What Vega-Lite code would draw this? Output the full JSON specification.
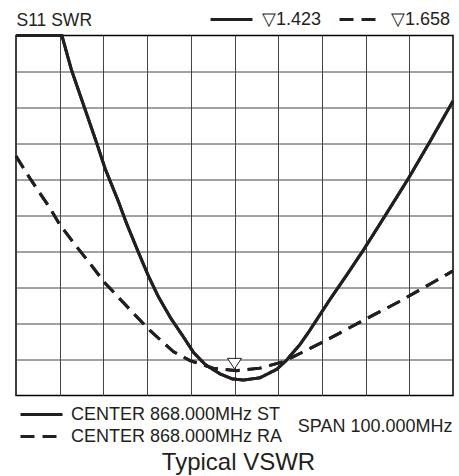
{
  "$schema": "https://vega.github.io/schema/vega-lite/v6.json",
  "width": 437,
  "height": 360,
  "autosize": {"type": "none"},
  "padding": {"left": 16, "top": 35.5, "right": 6, "bottom": 80.5},
  "background": "#ffffff",
  "title": {"text": "Typical VSWR", "orient": "bottom", "anchor": "middle", "fontSize": 24, "font": "Liberation Sans", "fontWeight": "normal", "color": "#231f20", "offset": 3, "dx": 4},
  "datasets": {
    "traces": [
      {"f": 818, "swr": 11, "s": "ST"},
      {"f": 828.5, "swr": 11, "s": "ST"},
      {"f": 830.7, "swr": 10.04, "s": "ST"},
      {"f": 833.8, "swr": 8.95, "s": "ST"},
      {"f": 836.5, "swr": 8.0, "s": "ST"},
      {"f": 838.4, "swr": 7.3, "s": "ST"},
      {"f": 841.4, "swr": 6.4, "s": "ST"},
      {"f": 843.3, "swr": 5.78, "s": "ST"},
      {"f": 846.0, "swr": 4.98, "s": "ST"},
      {"f": 848.3, "swr": 4.32, "s": "ST"},
      {"f": 850.6, "swr": 3.74, "s": "ST"},
      {"f": 853.4, "swr": 3.15, "s": "ST"},
      {"f": 856.3, "swr": 2.63, "s": "ST"},
      {"f": 858.6, "swr": 2.2, "s": "ST"},
      {"f": 861.3, "swr": 1.86, "s": "ST"},
      {"f": 864.7, "swr": 1.6, "s": "ST"},
      {"f": 867.5, "swr": 1.46, "s": "ST"},
      {"f": 870.0, "swr": 1.43, "s": "ST"},
      {"f": 873.8, "swr": 1.49, "s": "ST"},
      {"f": 877.7, "swr": 1.73, "s": "ST"},
      {"f": 879.9, "swr": 1.98, "s": "ST"},
      {"f": 883.0, "swr": 2.42, "s": "ST"},
      {"f": 884.9, "swr": 2.75, "s": "ST"},
      {"f": 887.0, "swr": 3.14, "s": "ST"},
      {"f": 889.9, "swr": 3.68, "s": "ST"},
      {"f": 893.7, "swr": 4.35, "s": "ST"},
      {"f": 897.5, "swr": 5.04, "s": "ST"},
      {"f": 902.6, "swr": 6.02, "s": "ST"},
      {"f": 907.8, "swr": 7.03, "s": "ST"},
      {"f": 912.8, "swr": 8.07, "s": "ST"},
      {"f": 918, "swr": 9.18, "s": "ST"},
      {"f": 818, "swr": 7.65, "s": "RA"},
      {"f": 821.2, "swr": 7.03, "s": "RA"},
      {"f": 825.8, "swr": 6.2, "s": "RA"},
      {"f": 828.0, "swr": 5.75, "s": "RA"},
      {"f": 831.9, "swr": 5.13, "s": "RA"},
      {"f": 834.9, "swr": 4.67, "s": "RA"},
      {"f": 838.4, "swr": 4.12, "s": "RA"},
      {"f": 846.0, "swr": 3.14, "s": "RA"},
      {"f": 848.7, "swr": 2.8, "s": "RA"},
      {"f": 854.0, "swr": 2.22, "s": "RA"},
      {"f": 857.8, "swr": 1.97, "s": "RA"},
      {"f": 863.1, "swr": 1.76, "s": "RA"},
      {"f": 868.5, "swr": 1.69, "s": "RA"},
      {"f": 873.8, "swr": 1.76, "s": "RA"},
      {"f": 879.2, "swr": 1.94, "s": "RA"},
      {"f": 884.5, "swr": 2.26, "s": "RA"},
      {"f": 888.3, "swr": 2.49, "s": "RA"},
      {"f": 898.3, "swr": 3.14, "s": "RA"},
      {"f": 905.9, "swr": 3.62, "s": "RA"},
      {"f": 917.7, "swr": 4.44, "s": "RA"},
      {"f": 918, "swr": 4.46, "s": "RA"}
    ],
    "marker": [
      {"f": 868, "swr": 1.74}
    ]
  },
  "layer": [
    {
      "data": {"name": "traces"},
      "mark": {"type": "line", "strokeWidth": 3, "color": "#231f20", "strokeCap": "butt"},
      "encoding": {
        "x": {"field": "f", "type": "quantitative", "scale": {"domain": [818, 918], "nice": false, "zero": false},
          "axis": {"values": [828, 838, 848, 858, 868, 878, 888, 898, 908], "grid": true, "ticks": false, "labels": false, "domain": false,
            "title": "SPAN 100.000MHz", "titleAnchor": "end", "titleAlign": "right", "titleBaseline": "middle", "titleX": 436, "titleY": 31, "titleFontSize": 18, "titleFontWeight": "normal", "titleFont": "Liberation Sans", "titleColor": "#231f20"}},
        "y": {"field": "swr", "type": "quantitative", "scale": {"domain": [1, 11], "nice": false, "zero": false},
          "axis": {"values": [2, 3, 4, 5, 6, 7, 8, 9, 10], "grid": true, "ticks": false, "labels": false, "domain": false,
            "title": "S11 SWR", "titleAngle": 0, "titleAlign": "left", "titleBaseline": "alphabetic", "titleX": 0, "titleY": -10.5, "titleFontSize": 17.5, "titleFontWeight": "normal", "titleFont": "Liberation Sans", "titleColor": "#231f20"}},
        "strokeDash": {"field": "s", "type": "nominal", "scale": {"domain": ["ST", "RA"], "range": [[1, 0], [14, 8]]},
          "legend": {"orient": "none", "legendX": 193, "legendY": -26, "direction": "horizontal", "title": null, "padding": 0,
            "labelExpr": "datum.value === 'ST' ? '▽1.423' : '▽1.658'", "symbolType": "stroke", "symbolSize": 1764, "symbolStrokeWidth": 3, "symbolStrokeColor": "#231f20",
            "labelFontSize": 18, "labelFont": "Liberation Sans", "labelColor": "#231f20", "labelOffset": 8, "labelLimit": 0, "columnPadding": 16, "clipHeight": 20}}
      }
    },
    {
      "data": {"name": "traces"},
      "mark": {"type": "line", "strokeWidth": 3, "color": "#231f20", "strokeCap": "butt"},
      "encoding": {
        "x": {"field": "f", "type": "quantitative"},
        "y": {"field": "swr", "type": "quantitative"},
        "strokeDash": {"field": "s", "type": "nominal", "scale": {"domain": ["ST", "RA"], "range": [[1, 0], [14, 8]]},
          "legend": {"orient": "none", "legendX": 3, "legendY": 368, "direction": "vertical", "title": null, "padding": 0,
            "labelExpr": "'CENTER 868.000MHz ' + datum.value", "symbolType": "stroke", "symbolSize": 1764, "symbolStrokeWidth": 3, "symbolStrokeColor": "#231f20",
            "labelFontSize": 18, "labelFont": "Liberation Sans", "labelColor": "#231f20", "labelOffset": 7, "labelLimit": 0, "rowPadding": 0, "clipHeight": 22}}
      }
    },
    {
      "data": {"name": "marker"},
      "mark": {"type": "point", "shape": "M-1,-1.5L1,-1.5L0,0Z", "size": 196, "filled": false, "stroke": "#231f20", "strokeWidth": 1, "fill": "#ffffff", "fillOpacity": 1, "opacity": 1},
      "encoding": {
        "x": {"field": "f", "type": "quantitative"},
        "y": {"field": "swr", "type": "quantitative"}
      }
    }
  ],
  "resolve": {"scale": {"strokeDash": "independent"}},
  "config": {
    "font": "Liberation Sans",
    "view": {"stroke": "#000000", "strokeWidth": 1.5},
    "axis": {"gridColor": "#444444", "gridWidth": 1, "gridOpacity": 1}
  }
}
